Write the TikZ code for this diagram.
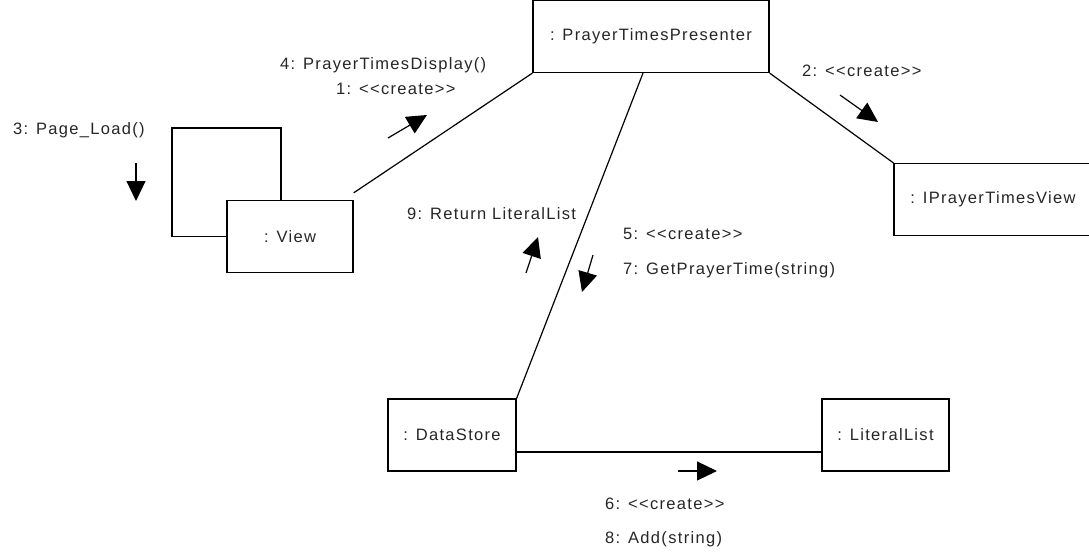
\documentclass[tikz,border=0pt]{standalone}
\usepackage{fontspec}
\setmainfont{Liberation Sans}[LetterSpace=8]
\usetikzlibrary{arrows.meta,positioning}

\begin{document}
\begin{tikzpicture}[x=1pt, y=-1pt, every node/.style={font=\fontsize{16.5}{19}\selectfont, text=black!85}]
\tikzset{
    objbox/.style={draw, line width=1.2pt, minimum height=72pt, inner sep=0pt},
    link/.style={line width=1.2pt},
    msgarrow/.style={line width=1.2pt, -{Triangle[length=20pt, width=19pt]}},
    msglabel/.style={anchor=base west, inner sep=0pt}
}
\useasboundingbox (0,0) rectangle (1089,557);

\node[objbox, minimum width=236pt] (presenter) at (651,36.5) {: PrayerTimesPresenter};
\node[objbox, minimum width=198pt] (iptview) at (993,199.5) {: IPrayerTimesView};
\node[objbox, minimum width=126pt] (view) at (290,236.5) {: View};
\node[objbox, minimum width=128pt] (datastore) at (452,435) {: DataStore};
\node[objbox, minimum width=127pt] (literallist) at (885.5,435) {: LiteralList};

\coordinate (loopcorner) at (172,128);
\draw[link] (view.west) -| (loopcorner) -| ([xshift=-9pt]view.north);
\draw[link] ([yshift=7pt]view.north east) -- (presenter.south west);
\draw[link] (presenter.south east) -- (iptview.north west);
\draw[link] ([xshift=-8pt]presenter.south) -- (datastore.north east);
\draw[link] ([yshift=-17pt]datastore.east) -- ([yshift=-17pt]literallist.west);

\coordinate (m3a) at (136,163); \coordinate (m3b) at (136,201);
\coordinate (m1a) at (388,138); \coordinate (m1b) at (427,115);
\coordinate (m2a) at (840,95);  \coordinate (m2b) at (878,122);
\coordinate (m9a) at (526,273); \coordinate (m9b) at (538,237);
\coordinate (m5a) at (593,255); \coordinate (m5b) at (582,292);
\coordinate (m6a) at (678,471); \coordinate (m6b) at (717,471);
\draw[msgarrow] (m3a) -- (m3b);
\draw[msgarrow] (m1a) -- (m1b);
\draw[msgarrow] (m2a) -- (m2b);
\draw[msgarrow] (m9a) -- (m9b);
\draw[msgarrow] (m5a) -- (m5b);
\draw[msgarrow] (m6a) -- (m6b);

\node[msglabel] (l3) at (13,134) {3: Page\_Load()};
\node[msglabel] (l4) at (280,69) {4: PrayerTimesDisplay()};
\node[msglabel] (l1) at (336,94) {1: <{}<create>{}>};
\node[msglabel] (l2) at (802,76) {2: <{}<create>{}>};
\node[msglabel] (l9) at (407,219) {9: Return LiteralList};
\node[msglabel] (l5) at (623,239) {5: <{}<create>{}>};
\node[msglabel] (l7) at (623,274) {7: GetPrayerTime(string)};
\node[msglabel] (l6) at (605,509) {6: <{}<create>{}>};
\node[msglabel] (l8) at (605,543) {8: Add(string)};

\end{tikzpicture}
\end{document}
